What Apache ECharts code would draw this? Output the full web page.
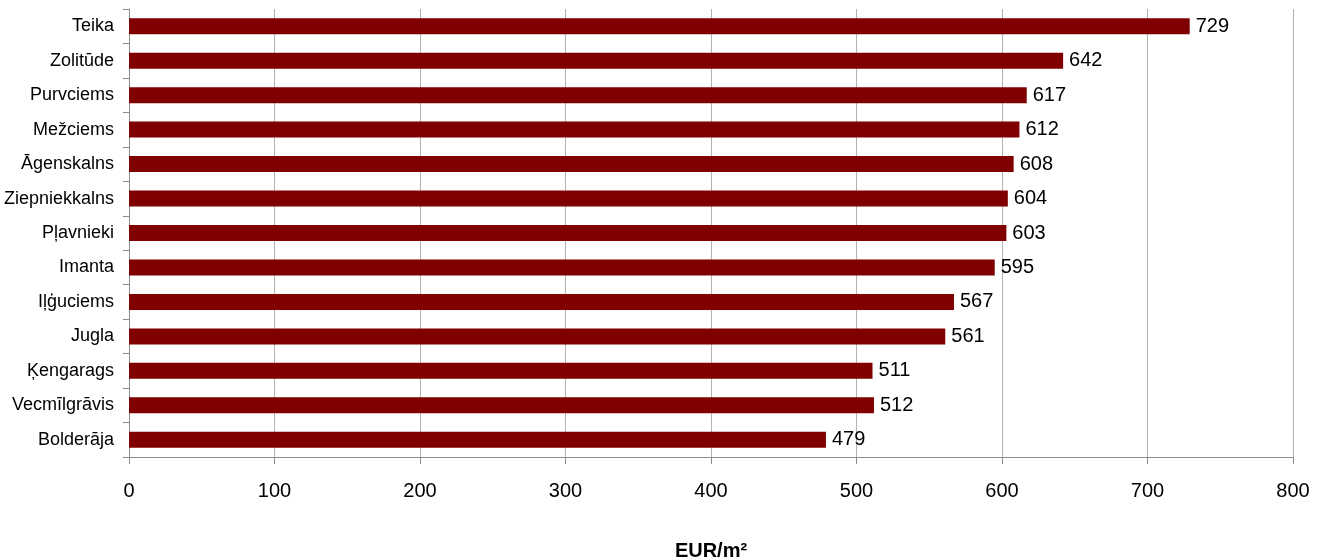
<!DOCTYPE html>
<html>
<head>
<meta charset="utf-8">
<script src="https://cdn.jsdelivr.net/npm/echarts@6/dist/echarts.min.js"></script>
<style>
  html, body { margin: 0; padding: 0; background: #ffffff; }
  #chart { width: 1324px; height: 560px; }
</style>
</head>
<body>
<div id="chart"></div>
<script>
// Riga districts, average price per square metre (top to bottom)
const districts = ['Teika', 'Zolitūde', 'Purvciems', 'Mežciems', 'Āgenskalns', 'Ziepniekkalns',
  'Pļavnieki', 'Imanta', 'Iļģuciems', 'Jugla', 'Ķengarags', 'Vecmīlgrāvis', 'Bolderāja'];
const prices = [729, 642, 617, 612, 608, 604, 603, 595, 567, 561, 511, 512, 479];
const unitLabel = 'EUR/m²';

const chart = echarts.init(document.getElementById('chart'));
chart.setOption({
  animation: false,
  backgroundColor: '#ffffff',
  grid: { left: 129, right: 31, top: 9, bottom: 103, containLabel: false, outerBoundsMode: 'none' },
  xAxis: {
    type: 'value',
    min: 0,
    max: 800,
    interval: 100,
    name: unitLabel,
    nameLocation: 'middle',
    nameGap: 84,
    nameTextStyle: { fontFamily: 'Liberation Sans', fontSize: 20, fontWeight: 'bold', color: '#000' },
    axisLine: { show: true, lineStyle: { color: '#8c8c8c', width: 1 } },
    axisTick: { show: true, length: 7, lineStyle: { color: '#8c8c8c' } },
    axisLabel: { fontFamily: 'Liberation Sans', fontSize: 20, color: '#000', margin: 24 },
    splitLine: { show: true, lineStyle: { color: '#b3b3b3', width: 1 } }
  },
  yAxis: {
    type: 'category',
    data: districts,
    inverse: true,
    axisLine: { show: true, lineStyle: { color: '#8c8c8c', width: 1 } },
    axisTick: { show: true, length: 6, lineStyle: { color: '#8c8c8c' } },
    axisLabel: { fontFamily: 'Liberation Sans', fontSize: 18, color: '#000', margin: 15 },
    splitLine: { show: false }
  },
  series: [{
    type: 'bar',
    data: prices,
    barWidth: 16,
    itemStyle: { color: '#800000' },
    label: {
      show: true,
      position: 'right',
      distance: 6,
      fontFamily: 'Liberation Sans',
      fontSize: 20,
      color: '#000'
    }
  }]
});
</script>
</body>
</html>
